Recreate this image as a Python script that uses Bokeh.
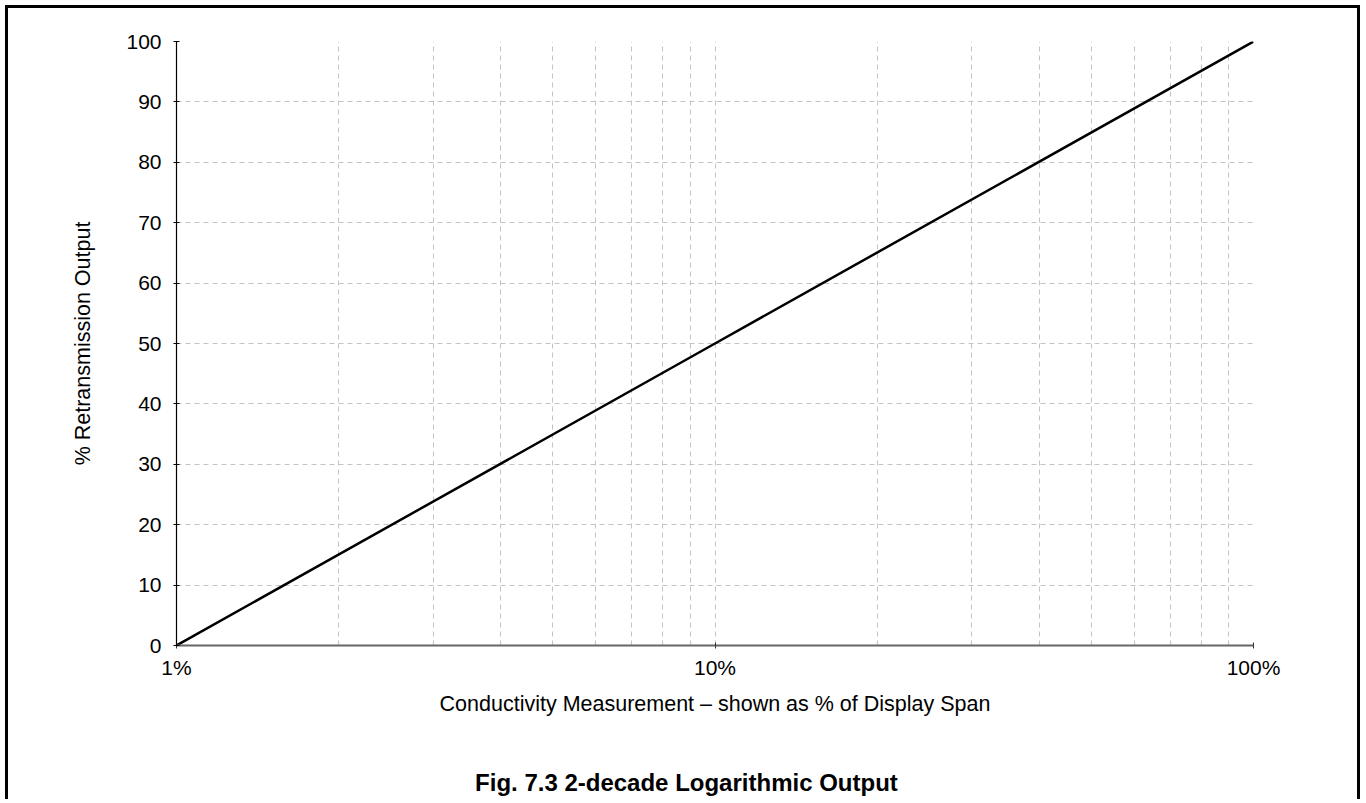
from bokeh.plotting import figure
from bokeh.models import Range1d, FixedTicker, LogAxis, CustomJSTickFormatter
from bokeh.embed import file_html
from bokeh.resources import INLINE

# ---- data ----
conductivity_pct = [1, 10, 100]          # % of display span (log axis)
retrans_output = [0, 50, 100]            # % retransmission output
x_major_ticks = [1, 10, 100]
x_minor_ticks = [2, 3, 4, 5, 6, 7, 8, 9, 20, 30, 40, 50, 60, 70, 80, 90]
y_ticks = [0, 10, 20, 30, 40, 50, 60, 70, 80, 90, 100]
x_label_text = "Conductivity Measurement \u2013 shown as % of Display Span"
y_label_text = "% Retransmission Output"
title_text = "Fig. 7.3 2-decade Logarithmic Output"

FONT = "Liberation Sans"

p = figure(width=1355, height=794, x_axis_type="log",
           x_range=Range1d(1, 100), y_range=Range1d(0, 100),
           output_backend="svg", toolbar_location=None,
           min_border_left=168, min_border_right=110,
           min_border_top=33, min_border_bottom=157)
p.styles = {"margin-left": "5px", "margin-top": "5px",
            "border-left": "3px solid black", "border-top": "3px solid black",
            "border-right": "3px solid black"}
p.outline_line_color = None
p.background_fill_color = "white"
p.border_fill_color = "white"

# x axis
p.xaxis.ticker = FixedTicker(ticks=x_major_ticks, minor_ticks=x_minor_ticks)
p.xaxis.formatter = CustomJSTickFormatter(code="return tick + '%';")
p.xaxis.axis_line_color = "#666666"
p.xaxis.axis_line_width = 2
p.xaxis.major_tick_line_color = "#333333"
p.xaxis.major_tick_in = 3
p.xaxis.major_tick_out = 3
p.xaxis.minor_tick_line_color = None
p.xaxis.major_label_standoff = 6
p.xaxis.major_label_text_font = FONT
p.xaxis.major_label_text_font_size = "21px"
p.xaxis.major_label_text_color = "black"
p.xaxis.axis_label = x_label_text
p.xaxis.axis_label_text_font = FONT
p.xaxis.axis_label_text_font_size = "21.5px"
p.xaxis.axis_label_text_font_style = "normal"
p.xaxis.axis_label_text_color = "black"
p.xaxis.axis_label_standoff = 10

# y axis
p.yaxis.ticker = FixedTicker(ticks=y_ticks)
p.yaxis.axis_line_color = "black"
p.yaxis.axis_line_width = 1.2
p.yaxis.major_tick_line_color = "black"
p.yaxis.major_tick_in = 3
p.yaxis.major_tick_out = 3
p.yaxis.minor_tick_line_color = None
p.yaxis.major_label_standoff = 12
p.yaxis.major_label_text_font = FONT
p.yaxis.major_label_text_font_size = "21px"
p.yaxis.major_label_text_color = "black"
p.yaxis.axis_label = y_label_text
p.yaxis.axis_label_text_font = FONT
p.yaxis.axis_label_text_font_size = "21.5px"
p.yaxis.axis_label_text_font_style = "normal"
p.yaxis.axis_label_text_color = "black"
p.yaxis.axis_label_standoff = 28

# grids
for g in (p.xgrid, p.ygrid):
    g.grid_line_color = "#c4c4c4"
    g.grid_line_dash = "5 4"
    g.grid_line_width = 1
p.xgrid.ticker = p.xaxis.ticker
p.xgrid.minor_grid_line_color = "#c4c4c4"
p.xgrid.minor_grid_line_dash = "5 4"
p.ygrid.ticker = p.yaxis.ticker

# the line
p.line(conductivity_pct, retrans_output, line_color="black", line_width=2.5)

# figure caption: an undecorated axis below the x axis whose only label
# is the caption, centred on the bordered box
caption_axis = LogAxis(ticker=FixedTicker(ticks=[8.85]),
                       formatter=CustomJSTickFormatter(args=dict(t=title_text),
                                                       code="return t;"))
caption_axis.axis_line_color = None
caption_axis.major_tick_line_color = None
caption_axis.minor_tick_line_color = None
caption_axis.major_tick_in = 0
caption_axis.major_tick_out = 0
caption_axis.major_label_standoff = 50
caption_axis.major_label_text_font = FONT
caption_axis.major_label_text_font_size = "24px"
caption_axis.major_label_text_font_style = "bold"
caption_axis.major_label_text_color = "black"
p.add_layout(caption_axis, "below")

open("out.html", "w").write(file_html(p, INLINE))
